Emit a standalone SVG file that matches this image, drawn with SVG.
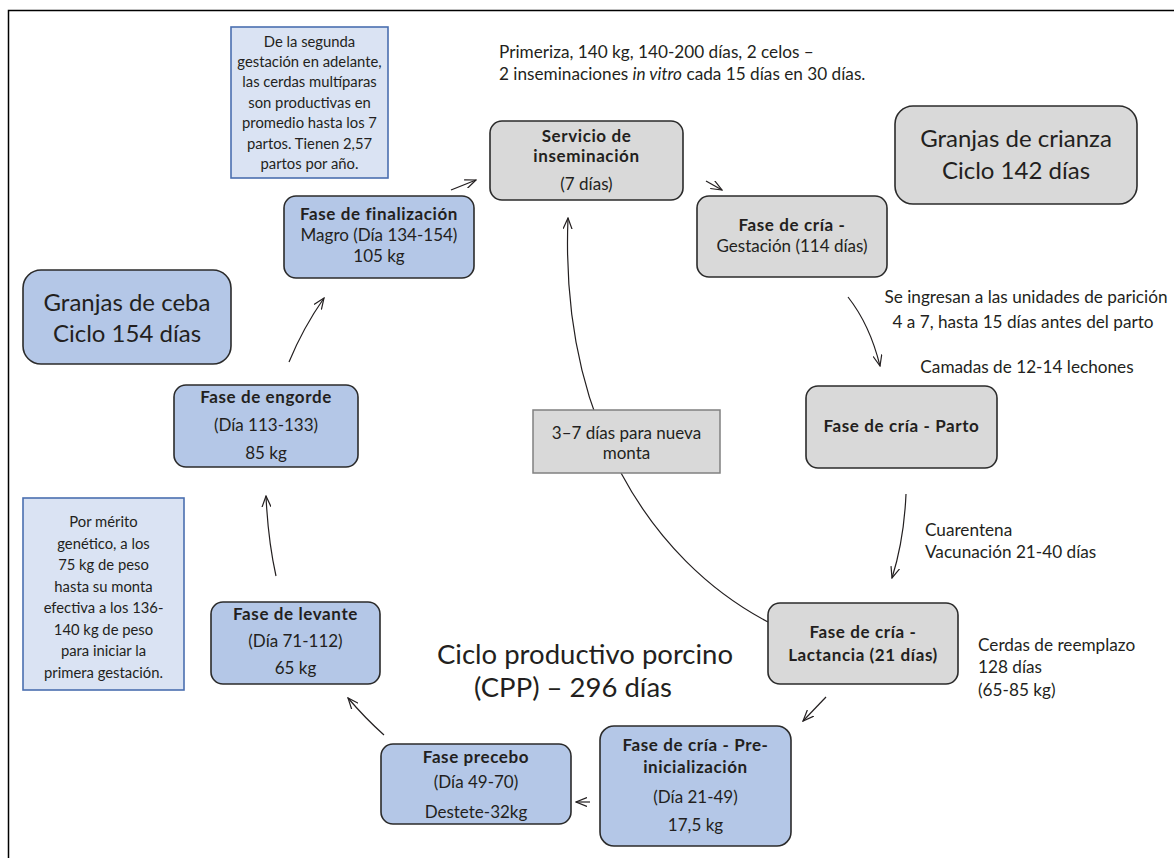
<svg xmlns="http://www.w3.org/2000/svg" width="1174" height="858" viewBox="0 0 1174 858">
<style>
text{font-family:Lato,"Liberation Sans",sans-serif;fill:#231f20;}
.t{font-size:17px;text-anchor:middle;}
.b{font-weight:bold;letter-spacing:0.6px;}
.l{font-size:17.2px;}
.n{font-size:14.8px;text-anchor:middle;}
.big{font-size:24px;text-anchor:middle;}
.title{font-size:27.5px;text-anchor:middle;}
.gray{fill:#d9d9d9;stroke:#2b2b2b;stroke-width:1.6;}
.blue{fill:#b4c7e7;stroke:#2b2b2b;stroke-width:1.6;}
.note{fill:#dae3f3;stroke:#4a6fb0;stroke-width:1.6;}
.c{fill:none;stroke:#231f20;stroke-width:1.2;}
</style>
<defs>
<marker id="ah" viewBox="0 0 12 10" refX="11" refY="5" markerWidth="12" markerHeight="10" markerUnits="userSpaceOnUse" orient="auto">
<path d="M0,0.5 L11,5 L0,9.5" fill="none" stroke="#231f20" stroke-width="1.2"/>
</marker>
</defs>
<rect width="1174" height="858" fill="#ffffff"/>
<path d="M8.5,858 V10.5 H1174" fill="none" stroke="#000" stroke-width="1.5"/>

<g id="connectors">
<path class="c" d="M768,622 C650,560 560,420 568,218" marker-end="url(#ah)"/>
<path class="c" d="M451,190 L476,180" marker-end="url(#ah)"/>
<path class="c" d="M706,181 L722,190" marker-end="url(#ah)"/>
<path class="c" d="M848,297 Q870,325 880,366" marker-end="url(#ah)"/>
<path class="c" d="M906,494 Q904,540 892,578" marker-end="url(#ah)"/>
<path class="c" d="M826,697 L803,721" marker-end="url(#ah)"/>
<path class="c" d="M590,802 L576,802" marker-end="url(#ah)"/>
<path class="c" d="M384,735 Q365,718 348,698" marker-end="url(#ah)"/>
<path class="c" d="M276,576 Q268,540 266,496" marker-end="url(#ah)"/>
<path class="c" d="M289,362 Q303,328 324,298" marker-end="url(#ah)"/>
</g>

<g id="note-multiparas">
<rect class="note" x="231" y="27" width="157" height="151"/>
<text class="n" x="309.5" y="47">De la segunda</text>
<text class="n" x="309.5" y="67">gestación en adelante,</text>
<text class="n" x="309.5" y="87">las cerdas multíparas</text>
<text class="n" x="309.5" y="108">son productivas en</text>
<text class="n" x="309.5" y="128">promedio hasta los 7</text>
<text class="n" x="309.5" y="149">partos. Tienen 2,57</text>
<text class="n" x="309.5" y="169">partos por año.</text>
</g>

<g id="label-primeriza">
<text class="l" x="499" y="58">Primeriza, 140 kg, 140-200 días, 2 celos –</text>
<text class="l" x="499" y="80">2 inseminaciones <tspan font-style="italic">in vitro</tspan> cada 15 días en 30 días.</text>
</g>

<g id="servicio">
<rect class="gray" x="490" y="121" width="193" height="79" rx="12"/>
<text class="t b" x="586.5" y="142">Servicio de</text>
<text class="t b" x="586.5" y="162">inseminación</text>
<text class="t" x="586.5" y="190">(7 días)</text>
</g>

<g id="granjas-crianza">
<rect class="gray" x="895" y="106" width="242" height="98" rx="18" stroke-width="2"/>
<text class="big" x="1016" y="147">Granjas de crianza</text>
<text class="big" x="1016" y="179">Ciclo 142 días</text>
</g>

<g id="gestacion">
<rect class="gray" x="697" y="196" width="190" height="81" rx="12"/>
<text class="t b" x="792" y="231">Fase de cría -</text>
<text class="t" x="792" y="252">Gestación (114 días)</text>
</g>

<g id="label-paricion">
<text class="l" x="1026" y="303" text-anchor="middle">Se ingresan a las unidades de parición</text>
<text class="l" x="1023" y="328" text-anchor="middle">4 a 7, hasta 15  días antes del parto</text>
<text class="l" x="1027" y="373" text-anchor="middle">Camadas de 12-14 lechones</text>
</g>

<g id="parto">
<rect class="gray" x="806" y="386" width="191" height="82" rx="12"/>
<text class="t b" x="901.5" y="432">Fase de cría - Parto</text>
</g>

<g id="label-cuarentena">
<text class="l" x="925" y="536">Cuarentena</text>
<text class="l" x="925" y="558">Vacunación 21-40 días</text>
</g>

<g id="lactancia">
<rect class="gray" x="768" y="603" width="190" height="81" rx="12"/>
<text class="t b" x="863" y="638">Fase de cría -</text>
<text class="t b" x="863" y="661">Lactancia (21 días)</text>
</g>

<g id="label-reemplazo">
<text class="l" x="978" y="651">Cerdas de reemplazo</text>
<text class="l" x="978" y="673">128 días</text>
<text class="l" x="978" y="696">(65-85 kg)</text>
</g>

<g id="preinicializacion">
<rect class="blue" x="600" y="726" width="191" height="120" rx="14"/>
<text class="t b" x="695.5" y="751">Fase de cría - Pre-</text>
<text class="t b" x="695.5" y="773">inicialización</text>
<text class="t" x="695.5" y="803">(Día 21-49)</text>
<text class="t" x="695.5" y="831">17,5 kg</text>
</g>

<g id="precebo">
<rect class="blue" x="381" y="744" width="190" height="80" rx="12"/>
<text class="t b" x="476" y="763">Fase precebo</text>
<text class="t" x="476" y="788">(Día 49-70)</text>
<text class="t" x="476" y="818">Destete-32kg</text>
</g>

<g id="levante">
<rect class="blue" x="211" y="602" width="169" height="82" rx="12"/>
<text class="t b" x="295.5" y="620">Fase de levante</text>
<text class="t" x="295.5" y="647">(Día 71-112)</text>
<text class="t" x="295.5" y="674">65 kg</text>
</g>

<g id="note-merito">
<rect class="note" x="23" y="498" width="161" height="192"/>
<text class="n" x="103.5" y="527">Por mérito</text>
<text class="n" x="103.5" y="549">genético, a los</text>
<text class="n" x="103.5" y="570">75 kg de peso</text>
<text class="n" x="103.5" y="592">hasta su monta</text>
<text class="n" x="103.5" y="613">efectiva a los 136-</text>
<text class="n" x="103.5" y="635">140 kg de peso</text>
<text class="n" x="103.5" y="656">para iniciar la</text>
<text class="n" x="103.5" y="678">primera gestación.</text>
</g>

<g id="granjas-ceba">
<rect class="blue" x="23" y="270" width="208" height="94" rx="18" stroke-width="2"/>
<text class="big" x="127" y="311">Granjas de ceba</text>
<text class="big" x="127" y="342">Ciclo 154 días</text>
</g>

<g id="engorde">
<rect class="blue" x="174" y="385" width="184" height="82" rx="12"/>
<text class="t b" x="266" y="403">Fase de engorde</text>
<text class="t" x="266" y="431">(Día 113-133)</text>
<text class="t" x="266" y="459">85 kg</text>
</g>

<g id="finalizacion">
<rect class="blue" x="284" y="196" width="190" height="82" rx="12"/>
<text class="t b" x="379" y="220">Fase de finalización</text>
<text class="t" x="379" y="241">Magro (Día 134-154)</text>
<text class="t" x="379" y="262">105 kg</text>
</g>

<g id="nueva-monta">
<rect x="533" y="410" width="187" height="63" fill="#d9d9d9" stroke="#808080" stroke-width="1.5"/>
<text class="t" x="626.5" y="439">3–7 días para nueva</text>
<text class="t" x="626.5" y="459">monta</text>
</g>

<g id="titulo">
<text class="title" x="585" y="664">Ciclo productivo porcino</text>
<text class="title" x="573" y="697">(CPP) – 296 días</text>
</g>
</svg>
